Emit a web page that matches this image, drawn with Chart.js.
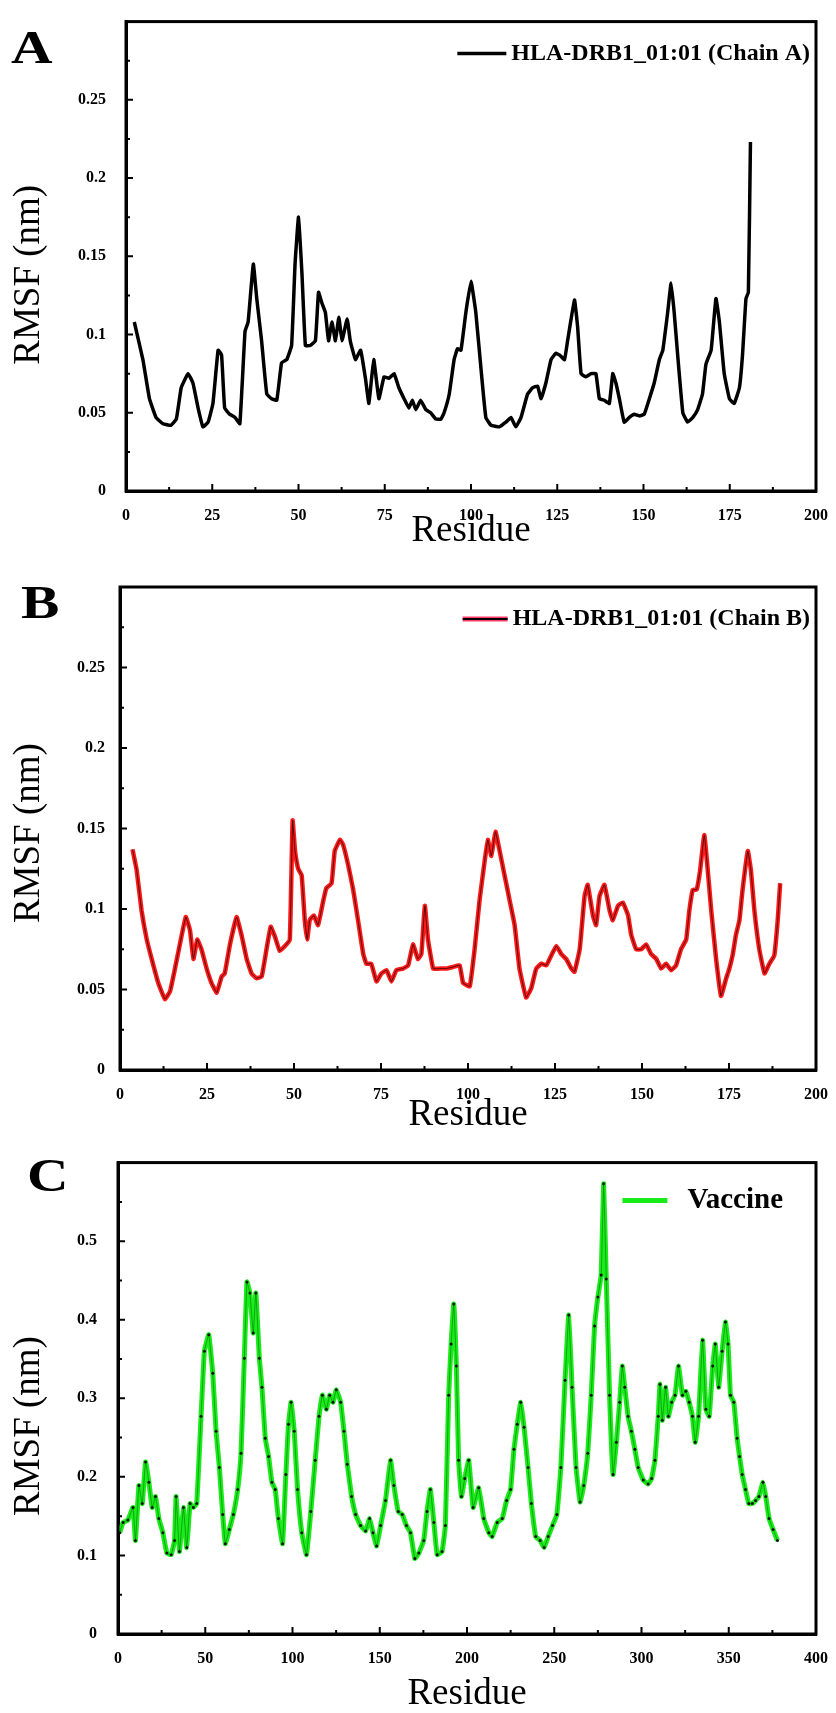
<!DOCTYPE html>
<html>
<head>
<meta charset="utf-8">
<script src="https://cdn.jsdelivr.net/npm/chart.js@4.4.1/dist/chart.umd.min.js"></script>
<style>
    body { margin: 0; background: #fff; width: 836px; height: 1713px; position: relative; overflow: hidden; }
    canvas { position: absolute; left: 0; }
    .lettre { position: absolute; font: bold 46px "Liberation Serif", serif; line-height: 1; color: #000;
              transform: scaleX(1.25); transform-origin: 0 0; }
</style>
</head>
<body>
<div class="lettre" style="left:11px;top:25px">A</div>
<div class="lettre" style="left:21px;top:580px">B</div>
<div class="lettre" style="left:27px;top:1153px">C</div>
<canvas id="chartA" width="836" height="560" style="top:0px"></canvas>
<canvas id="chartB" width="836" height="580" style="top:560px"></canvas>
<canvas id="chartC" width="836" height="573" style="top:1140px"></canvas>
<script>
// Données (résidu, RMSF en nm)
var residusA = [2.4, 4.9, 6.8, 8.7, 10.7, 13, 14.6, 16, 18, 19.4, 20.9, 22.3, 23.8, 25.2, 26.7, 27.7, 28.6, 30.1, 31.6, 33,
    34.5, 35.4, 36.9, 37.9, 39.3, 40.8, 42.2, 43.7, 45.1, 46.6, 48, 49, 50, 51, 52, 53.4, 54.9, 55.8, 56.8, 57.8,
    58.7, 59.7, 60.7, 61.7, 62.6, 64.1, 65, 66.5, 68, 69.4, 70.4, 71.8, 73.3, 74.8, 76.2, 77.7, 79.1, 80.6, 82, 83,
    84, 85.4, 86.9, 88.3, 89.8, 91.3, 92.2, 93.7, 95.1, 96.1, 97.1, 98.5, 100, 101.4, 102.9, 104.3, 105.8, 108.2, 110.1, 111.6,
    113, 114.5, 116.4, 117.9, 119.3, 120.3, 121.7, 123.2, 124.6, 125.6, 127.1, 128, 130, 130.9, 131.9, 133.3, 134.8, 136.2, 137.2, 138.6,
    140.1, 141.1, 142, 143, 144.4, 145.9, 147.3, 148.8, 150.2, 151.7, 153.1, 154.6, 155.6, 157, 158, 158.9, 159.9, 161.4, 162.8, 164.3,
    165.7, 167.1, 168.1, 169.6, 171, 172, 173.4, 174.9, 176.3, 177.8, 178.7, 179.7, 180.4, 181];
var rmsfA = [0.108, 0.084, 0.059, 0.047, 0.043, 0.042, 0.046, 0.066, 0.075, 0.069, 0.053, 0.041, 0.044, 0.056, 0.090, 0.087, 0.053, 0.049, 0.047, 0.043,
    0.102, 0.108, 0.145, 0.123, 0.096, 0.062, 0.059, 0.058, 0.082, 0.084, 0.093, 0.145, 0.175, 0.139, 0.093, 0.093, 0.096, 0.127, 0.120, 0.114,
    0.096, 0.108, 0.096, 0.111, 0.096, 0.110, 0.096, 0.084, 0.090, 0.072, 0.056, 0.084, 0.059, 0.073, 0.072, 0.075, 0.066, 0.059, 0.053, 0.058,
    0.052, 0.058, 0.052, 0.050, 0.046, 0.046, 0.050, 0.062, 0.084, 0.091, 0.090, 0.114, 0.134, 0.114, 0.078, 0.047, 0.042, 0.041, 0.044, 0.047,
    0.041, 0.047, 0.062, 0.066, 0.067, 0.059, 0.069, 0.084, 0.088, 0.087, 0.084, 0.096, 0.122, 0.105, 0.075, 0.073, 0.075, 0.075, 0.059, 0.058,
    0.056, 0.075, 0.069, 0.059, 0.044, 0.047, 0.049, 0.048, 0.049, 0.059, 0.069, 0.084, 0.090, 0.114, 0.133, 0.114, 0.087, 0.050, 0.044, 0.047,
    0.052, 0.062, 0.081, 0.090, 0.123, 0.108, 0.075, 0.059, 0.056, 0.066, 0.087, 0.123, 0.127, 0.223];

var residusB = [3.6, 4.8, 6.2, 7.7, 9.1, 11, 12.9, 14.4, 15.8, 17.2, 18.9, 20.1, 21.1, 22.2, 23.4, 24.9, 26.3, 27.8, 29.2, 30.1,
    31.6, 33.5, 34.9, 36.4, 37.8, 39.2, 40.7, 42.1, 43.3, 44.5, 45.9, 47.4, 48.8, 49.6, 50.3, 51.2, 52.2, 53.1, 53.8, 54.5,
    55.7, 56.9, 58.4, 59.3, 60.8, 61.7, 63.2, 64.1, 65.6, 67, 68.4, 69.9, 70.8, 72.2, 73.7, 75.1, 76.6, 78, 79.4, 81.3,
    82.8, 84.2, 85.6, 86.6, 87.6, 88.5, 90, 91.9, 93.8, 95.7, 97.6, 98.6, 100.5, 101.9, 103.3, 104.8, 105.7, 106.7, 107.9, 109.1,
    110.5, 112, 113.4, 114.8, 116.7, 118.2, 119.6, 121.1, 122.5, 123.9, 125.4, 126.8, 128.2, 129.7, 130.6, 132.1, 133.5, 134.4, 135.9, 136.8,
    137.8, 139.2, 140.7, 141.6, 143.1, 144.5, 146, 146.9, 148.3, 149.8, 151.2, 152.6, 154.1, 155.5, 156.9, 158.4, 159.8, 161.2, 162.7, 163.6,
    164.6, 165.7, 166.7, 167.9, 168.9, 169.9, 171.3, 172.7, 174.2, 175.1, 176.1, 177, 178, 178.9, 180.4, 181.3, 182.3, 183.7, 185.2, 186.6,
    188, 189, 189.7];
var rmsfB = [0.137, 0.124, 0.099, 0.081, 0.069, 0.054, 0.044, 0.049, 0.063, 0.078, 0.095, 0.087, 0.069, 0.081, 0.075, 0.063, 0.054, 0.048, 0.058, 0.060,
    0.078, 0.095, 0.084, 0.069, 0.060, 0.057, 0.058, 0.075, 0.089, 0.083, 0.074, 0.077, 0.081, 0.155, 0.136, 0.125, 0.121, 0.093, 0.081, 0.093,
    0.096, 0.090, 0.105, 0.113, 0.116, 0.136, 0.143, 0.140, 0.127, 0.112, 0.093, 0.072, 0.066, 0.066, 0.055, 0.060, 0.062, 0.055, 0.062, 0.063,
    0.065, 0.078, 0.069, 0.072, 0.102, 0.081, 0.063, 0.063, 0.063, 0.064, 0.065, 0.054, 0.052, 0.075, 0.105, 0.130, 0.143, 0.133, 0.148, 0.136,
    0.121, 0.105, 0.090, 0.063, 0.045, 0.051, 0.063, 0.066, 0.065, 0.071, 0.077, 0.072, 0.069, 0.063, 0.061, 0.075, 0.108, 0.115, 0.096, 0.090,
    0.108, 0.115, 0.099, 0.093, 0.102, 0.104, 0.096, 0.084, 0.075, 0.075, 0.078, 0.072, 0.069, 0.063, 0.066, 0.062, 0.065, 0.075, 0.081, 0.099,
    0.112, 0.112, 0.124, 0.146, 0.124, 0.099, 0.069, 0.046, 0.057, 0.063, 0.072, 0.084, 0.093, 0.112, 0.136, 0.124, 0.099, 0.075, 0.060, 0.066,
    0.071, 0.093, 0.116];

var residusC = [1, 2.9, 5.7, 8.6, 10, 12, 13.9, 15.8, 17.7, 19.6, 21.5, 23.4, 25.7, 28, 30.5, 32.4, 33.3, 35.2, 37.5, 39.4,
    41.3, 43.2, 45.1, 47.6, 49.5, 52, 54.3, 56.2, 58.1, 60, 61.5, 63.8, 66.1, 68.6, 70.5, 72.4, 73.9, 75.6, 77.5, 79,
    81, 82.5, 84.4, 86.3, 88.2, 90.1, 91.9, 94.3, 96.2, 97.7, 99.2, 101, 102.9, 105.3, 108, 110.5, 113, 115.2, 117.1, 119.4,
    121.3, 123.2, 125.1, 127.6, 129.5, 131.4, 133.9, 136.2, 139, 141.9, 144.2, 146.1, 148.2, 150.5, 153.3, 156.2, 158.1, 160.6, 162.9, 165.3,
    167.6, 170.1, 172.4, 175.2, 177.1, 179, 181, 182.9, 185.7, 187.6, 189.5, 190.9, 192.4, 193.9, 195.2, 196.8, 198.7, 201, 203.5, 206.7,
    209.6, 212.5, 214.4, 217.3, 220.2, 222.7, 225, 226.9, 228.8, 230.8, 232.7, 235, 236.9, 239.4, 241.9, 244.2, 246.5, 249, 251.5, 253.8,
    256.2, 258.3, 260.2, 262.5, 264.8, 266.9, 269.2, 271.2, 273.1, 275, 276.9, 278.3, 279.8, 281.7, 283.7, 285.6, 287.5, 289, 290.4, 292.3,
    294.2, 296.2, 298.1, 301, 303.8, 305.8, 307.7, 309.6, 310.6, 311.9, 313.8, 315.4, 317.3, 319.2, 321.2, 323.5, 325.4, 327.3, 329.2, 330.8,
    332.7, 335, 336.9, 338.8, 340.8, 342.3, 344.2, 346.2, 348.1, 349.6, 351, 352.9, 354.8, 356.2, 357.7, 359.6, 361.5, 363.5, 365.4, 367.3,
    369.6, 371.2, 373.1, 375.4, 377.9];
var rmsfC = [0.129, 0.142, 0.145, 0.161, 0.119, 0.189, 0.166, 0.219, 0.193, 0.161, 0.175, 0.147, 0.129, 0.103, 0.101, 0.119, 0.175, 0.105, 0.161, 0.110,
    0.166, 0.161, 0.166, 0.277, 0.360, 0.381, 0.332, 0.258, 0.212, 0.152, 0.115, 0.133, 0.152, 0.184, 0.230, 0.351, 0.448, 0.434, 0.383, 0.434,
    0.351, 0.314, 0.249, 0.226, 0.193, 0.184, 0.147, 0.115, 0.203, 0.267, 0.295, 0.258, 0.184, 0.129, 0.101, 0.156, 0.221, 0.277, 0.304, 0.286,
    0.304, 0.295, 0.311, 0.295, 0.258, 0.216, 0.175, 0.152, 0.138, 0.131, 0.147, 0.129, 0.112, 0.138, 0.170, 0.221, 0.189, 0.156, 0.152, 0.138,
    0.129, 0.096, 0.103, 0.119, 0.156, 0.184, 0.142, 0.101, 0.105, 0.138, 0.304, 0.369, 0.420, 0.341, 0.221, 0.175, 0.198, 0.221, 0.161, 0.186,
    0.147, 0.129, 0.124, 0.142, 0.147, 0.170, 0.184, 0.235, 0.267, 0.295, 0.263, 0.212, 0.166, 0.124, 0.119, 0.110, 0.124, 0.138, 0.152, 0.212,
    0.323, 0.406, 0.314, 0.212, 0.168, 0.189, 0.230, 0.304, 0.392, 0.429, 0.457, 0.573, 0.452, 0.304, 0.203, 0.244, 0.295, 0.341, 0.314, 0.277,
    0.258, 0.235, 0.212, 0.196, 0.191, 0.198, 0.221, 0.277, 0.318, 0.272, 0.314, 0.277, 0.295, 0.304, 0.341, 0.304, 0.309, 0.295, 0.277, 0.244,
    0.277, 0.374, 0.286, 0.277, 0.341, 0.369, 0.314, 0.360, 0.397, 0.369, 0.304, 0.295, 0.249, 0.226, 0.203, 0.184, 0.166, 0.166, 0.170, 0.175,
    0.193, 0.175, 0.147, 0.133, 0.119];

// Graduations des axes
var ticksXAB = [0, 25, 50, 75, 100, 125, 150, 175, 200];
var ticksXC = [0, 50, 100, 150, 200, 250, 300, 350, 400];
var ticksYAB = [0, 0.05, 0.1, 0.15, 0.2, 0.25];
var ticksYC = [0, 0.1, 0.2, 0.3, 0.4, 0.5];

var vert = '#1aeb1a';

function points(residus, valeurs) {
    return residus.map((r, i) => ({ x: r, y: valeurs[i] }));
}

// Cadre noir, graduations vers l'intérieur et légende dans la zone de tracé
var cadre = {
    id: 'cadre',
    afterDraw: function(chart) {
        var ctx = chart.ctx;
        var a = chart.chartArea;
        var leg = chart.options.plugins.cadre;
        var sx = chart.scales.x, sy = chart.scales.y;
        ctx.save();
        ctx.strokeStyle = '#000';
        ctx.lineWidth = 3;
        ctx.strokeRect(a.left, a.top, a.right - a.left, a.bottom - a.top);

        // graduations principales et secondaires
        ctx.lineWidth = 2;
        ctx.beginPath();
        sx.ticks.forEach(function(t, i) {
            var px = sx.getPixelForValue(t.value);
            ctx.moveTo(px, a.bottom); ctx.lineTo(px, a.bottom - 7);
            if (i > 0) {
                var pm = sx.getPixelForValue((t.value + sx.ticks[i - 1].value) / 2);
                ctx.moveTo(pm, a.bottom); ctx.lineTo(pm, a.bottom - 4);
            }
        });
        sy.ticks.forEach(function(t, i) {
            var py = sy.getPixelForValue(t.value);
            ctx.moveTo(a.left, py); ctx.lineTo(a.left + 7, py);
            var suivant = i < sy.ticks.length - 1 ? sy.ticks[i + 1].value : sy.max;
            var pm = sy.getPixelForValue((t.value + suivant) / 2);
            ctx.moveTo(a.left, pm); ctx.lineTo(a.left + 4, pm);
        });
        ctx.stroke();

        ctx.font = leg.police;
        ctx.textBaseline = 'middle';
        ctx.textAlign = 'right';
        var xTexte = a.right - leg.marge;
        var y = a.top + leg.dy;
        var largeur = ctx.measureText(leg.texte).width;
        var xFin = xTexte - largeur - leg.ecart;
        leg.traits.forEach(function(t) {
            ctx.strokeStyle = t.couleur;
            ctx.lineWidth = t.epaisseur;
            ctx.beginPath();
            ctx.moveTo(xFin - leg.longueur, y);
            ctx.lineTo(xFin, y);
            ctx.stroke();
        });
        ctx.fillStyle = '#000';
        ctx.fillText(leg.texte, xTexte, y);
        ctx.restore();
    }
};

function creerGraphique(id, datasets, o) {
    var police = { family: '"Liberation Serif", serif', size: 16, weight: 'bold' };
    return new Chart(document.getElementById(id).getContext('2d'), {
        type: 'line',
        data: { datasets: datasets },
        options: {
            responsive: false,
            animation: false,
            layout: { padding: { top: o.haut, right: 836 - o.droite, left: 0, bottom: 0 } },
            elements: { point: { radius: 0 }, line: { tension: 0.1 } },
            plugins: {
                legend: { display: false },
                tooltip: { enabled: false },
                cadre: o.legende
            },
            scales: {
                x: {
                    type: 'linear',
                    min: 0,
                    max: o.ticksX[o.ticksX.length - 1],
                    afterBuildTicks: function(s) { s.ticks = o.ticksX.map(v => ({ value: v })); },
                    afterFit: function(s) { s.height = o.hautX; },
                    grid: { display: false },
                    border: { color: '#000', width: 3 },
                    ticks: { color: '#000', font: police, padding: 7, maxRotation: 0, autoSkip: false,
                             callback: v => String(v) },
                    title: { display: true, text: 'Residue', color: '#000',
                             font: { family: '"Liberation Serif", serif', size: 37, lineHeight: 1 },
                             padding: { top: 0, bottom: o.basTitreX } }
                },
                y: {
                    min: 0,
                    max: o.yMax,
                    afterBuildTicks: function(s) { s.ticks = o.ticksY.map(v => ({ value: v })); },
                    afterFit: function(s) { s.width = o.gauche; },
                    grid: { display: false },
                    border: { color: '#000', width: 3 },
                    ticks: { color: '#000', font: police, padding: o.padTicksY,
                             callback: v => String(+v.toFixed(2)) },
                    title: { display: true, text: 'RMSF (nm)' + o.espaces, color: '#000',
                             font: { family: '"Liberation Serif", serif', size: 37, lineHeight: 1 },
                             padding: { top: 11, bottom: 0 } }
                }
            }
        },
        plugins: [cadre]
    });
}

// le premier jeu de données est dessiné par-dessus les autres
creerGraphique('chartA', [{
    label: 'HLA-DRB1_01:01 (Chain A)',
    data: points(residusA, rmsfA),
    borderColor: '#000',
    borderWidth: 3.5
}], {
    haut: 14, droite: 816, gauche: 126, hautX: 69, basTitreX: 10, padTicksY: 12,
    ticksX: ticksXAB, ticksY: ticksYAB, yMax: 0.3, espaces: '    ',
    legende: { texte: 'HLA-DRB1_01:01 (Chain A)', police: 'bold 24px "Liberation Serif"', marge: 6, dy: 32,
               ecart: 5, longueur: 49, traits: [{ couleur: '#000', epaisseur: 3.5 }] }
});

creerGraphique('chartB', [{
    label: 'coeur',
    data: points(residusB, rmsfB),
    borderColor: 'rgba(0,0,0,0.75)',
    borderWidth: 0.9
}, {
    label: 'HLA-DRB1_01:01 (Chain B)',
    data: points(residusB, rmsfB),
    borderColor: '#ff1a1a',
    borderWidth: 4.5
}], {
    haut: 27, droite: 816, gauche: 120, hautX: 70, basTitreX: 6, padTicksY: 7,
    ticksX: ticksXAB, ticksY: ticksYAB, yMax: 0.3, espaces: ' ',
    legende: { texte: 'HLA-DRB1_01:01 (Chain B)', police: 'bold 24px "Liberation Serif"', marge: 6, dy: 32,
               ecart: 5, longueur: 45, traits: [{ couleur: '#ff3a6a', epaisseur: 5 }, { couleur: '#000', epaisseur: 2 }] }
});

creerGraphique('chartC', [{
    label: 'coeur',
    data: points(residusC, rmsfC),
    borderColor: 'rgba(0,60,0,0.4)',
    borderWidth: 1,
    pointRadius: 1.5,
    pointBackgroundColor: '#111',
    pointBorderWidth: 0
}, {
    label: 'Vaccine',
    data: points(residusC, rmsfC),
    borderColor: vert,
    borderWidth: 5
}], {
    haut: 10, droite: 816, gauche: 118, hautX: 79, basTitreX: 0, padTicksY: 13,
    ticksX: ticksXC, ticksY: ticksYC, yMax: 0.6, espaces: '      ',
    legende: { texte: 'Vaccine', police: 'bold 29px "Liberation Serif"', marge: 33, dy: 38,
               ecart: 20, longueur: 45, traits: [{ couleur: vert, epaisseur: 5 }] }
});
</script>
</body>
</html>
